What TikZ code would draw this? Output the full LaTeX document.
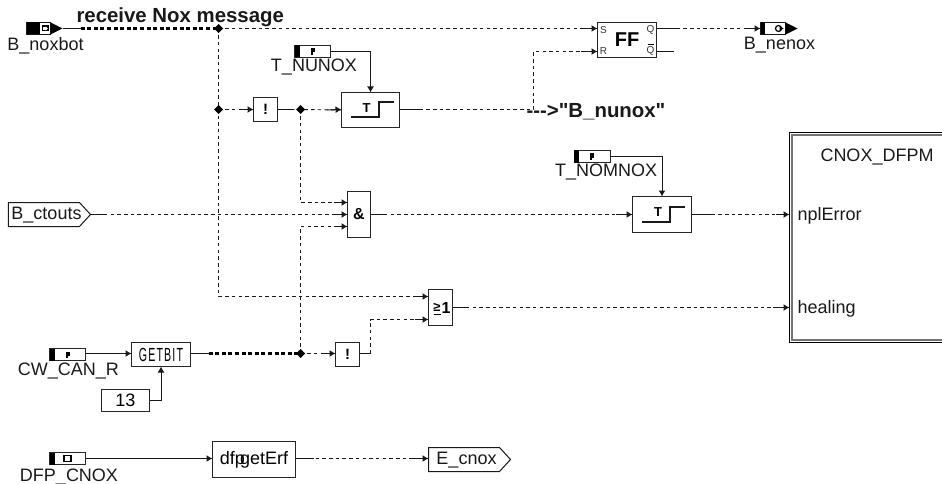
\documentclass[tikz,border=0pt]{standalone}
\usepackage{fontspec}
\setmainfont[Ligatures=TeXOff]{Liberation Sans}
\usetikzlibrary{arrows.meta,calc,shapes.geometric}
\newcommand{\szA}{\fontsize{18}{20}\selectfont}
\newcommand{\szB}{\fontsize{20.4}{22}\selectfont\bfseries}
\tikzset{
  x=1pt,y=-1pt,
  wire/.style={line width=0.9pt,black!90,dash pattern=on 3.5pt off 3.2pt},
  boldwire/.style={line width=2.2pt,black,dash pattern=on 4pt off 2.6pt},
  stub/.style={line width=1pt,black!90},
  stubin/.style={line width=1pt,black!90,-{Latex[length=6pt,width=7pt]}},
  blk/.style={draw=black!85,line width=1.1pt,fill=white,inner sep=0pt,outer sep=0pt,rectangle,font=\szA},
  lbl/.style={inner sep=0pt,outer sep=0pt,font=\szA,text=black!90},
  bold/.style={inner sep=0pt,outer sep=0pt,font=\szB,text=black!90},
  dot/.style={diamond,fill=black,inner sep=0pt,minimum size=9pt,outer sep=0pt},
  sym/.style={inner sep=0pt,outer sep=0pt,font=\bfseries\fontsize{16}{18}\selectfont},
  port/.style={inner sep=0pt,outer sep=0pt,font=\fontsize{10}{11}\selectfont,text=black!80},
  flag/.style={draw=black!85,line width=1pt,fill=white,inner sep=0pt,outer sep=0pt,minimum width=36pt,minimum height=12pt,rectangle},
  flagbar/.style={fill=black,draw=none},
  stepline/.style={line width=2pt,black!90},
  tag/.style={draw=black!90,line width=1pt,fill=white},
}
\newcommand{\flagbar}[1]{\fill[flagbar] (#1.north west) rectangle ($(#1.south west)+(5,0)$);}
\newcommand{\stepsym}[1]{%
  \draw[stepline] ($(#1.center)+(-20,7.5)$) -- ($(#1.center)+(8,7.5)$) -- ($(#1.center)+(8,-7.5)$) -- ($(#1.center)+(23,-7.5)$);
  \node[sym,font=\bfseries\fontsize{13}{14}\selectfont] at ($(#1.center)+(-4,-2)$) {T};}
\begin{document}
\begin{tikzpicture}
\useasboundingbox (-0.5,-0.5) rectangle (941.5,483.5);
% blocks
\node[blk,minimum width=24pt,minimum height=24pt] (not1) at (265,109) {};
\node[sym,font=\bfseries\fontsize{15}{17}\selectfont] at (not1.center) {!};
\node[blk,minimum width=58pt,minimum height=35pt] (t1) at (370,109.5) {};
\node[blk,minimum width=59pt,minimum height=35pt] (ff) at (626.5,39.5) {};
\node[sym,font=\bfseries\fontsize{20}{22}\selectfont] at (ff.center) {FF};
\node[port] at (603,29.5) {S};
\node[port] at (603,50.5) {R};
\node[port] at (650,29.5) {Q};
\node[port] at (650,50.5) {Q};
\draw[line width=.7pt] (647,44) -- (653,44);
\node[blk,minimum width=59pt,minimum height=36pt] (t2) at (661.5,214) {};
\node[blk,minimum width=23pt,minimum height=46pt] (and) at (358.5,214) {};
\node[sym] at (and.center) {\&};
\node[blk,minimum width=24pt,minimum height=36pt] (or) at (440,307) {};
\node[sym,font=\fontsize{13}{14}\selectfont\bfseries] at (436.5,307) {≥};
\draw[line width=.9pt] (433,313.5) -- (440,313.5);
\node[sym] at (445.5,307.5) {1};
\node[blk,minimum width=24pt,minimum height=24pt] (not2) at (347,354) {};
\node[sym,font=\bfseries\fontsize{15}{17}\selectfont] at (not2.center) {!};
\node[blk,minimum width=59pt,minimum height=24pt] (getbit) at (160.5,354) {\fontsize{19}{20}\selectfont\scalebox{0.56}[1]{G\kern2pt E\kern2pt T\kern2pt B\kern2pt I\kern2pt T}};
\node[blk,minimum width=48pt,minimum height=22pt] (k13) at (125,400) {13};
\node[blk,minimum width=83pt,minimum height=36pt] (dfp) at (253.5,459) {dfp\kern-5pt getErf};
\draw[black,line width=1pt] (943,132) -| (789,342) -- (943,342);
\draw[black!55,line width=1.6pt] (943,134.5) -| (791.5,339.5) -- (943,339.5);
\node[lbl] (cnoxname) at (876.5,157) {CNOX\_DFPM};
\node[lbl,anchor=west] (cnoxerr) at (797,215) {nplError};
\node[lbl,anchor=west] (cnoxheal) at (797,308) {healing};
% tags
\draw[tag] (8,202) -- (79,202) -- (90,214) -- (79,226) -- (8,226) -- cycle;
\node[lbl,anchor=center] (ctouts) at (46,215) {B\_ctouts};
\coordinate (ctoutsE) at (90,214);
\draw[tag] (428,447) -- (499,447) -- (510,459) -- (499,471) -- (428,471) -- cycle;
\node[lbl] (ecnox) at (466,460) {E\_cnox};
\coordinate (ecnoxW) at (428,458);
% flags
\node[flag] (nuicon) at (312,51) {}; \flagbar{nuicon}
\node[flag] (nomicon) at (591.5,156) {}; \flagbar{nomicon}
\node[flag] (cwicon) at (67,354) {}; \flagbar{cwicon}
\node[flag] (dfpicon) at (67,458) {}; \flagbar{dfpicon}
\foreach \n in {nuicon,nomicon,cwicon} {
  \fill ($(\n.center)+(-2,-3)$) rectangle ($(\n.center)+(2,1)$);
  \fill ($(\n.center)+(-2,1)$) rectangle ($(\n.center)+(0,3.5)$);
}
\draw[line width=1.2pt] ($(dfpicon.center)+(-3.5,-3)$) rectangle ($(dfpicon.center)+(3.5,3)$);
% input and output flags
\node[inner sep=0pt,outer sep=0pt,minimum width=24pt,minimum height=12pt,fill=white,draw=black!90,line width=1pt] (bin) at (38,28) {};
\fill (bin.north west) rectangle ($(bin.south west)+(13,0)$);
\fill (bin.north east) -- (62,28) -- (bin.south east) -- cycle;
\fill (41,25) rectangle (48,31);
\fill[white] (42.5,26.8) rectangle (45,29.2);
\fill[white] (45,25.8) -- (47.5,28) -- (45,30.2) -- cycle;
\coordinate (binE) at (62,28);
\node[inner sep=0pt,outer sep=0pt,minimum width=25pt,minimum height=12pt,fill=white,draw=black!90,line width=1pt] (bout) at (772.5,28) {};
\fill (bout.north west) rectangle ($(bout.south west)+(4,0)$);
\fill (785,22) -- (797,28) -- (785,34) -- cycle;
\draw[line width=1.2pt] (778,28) circle (3pt);
\fill (779,25.5) -- (783,28) -- (779,30.5) -- cycle;
\coordinate (boutW) at (760,28);
% labels
\node[lbl] (l1) at (45,45) {B\_noxbot};
\node[lbl] (l2) at (779,45) {B\_nenox};
\node[lbl] (l3) at (313.5,67) {T\_NUNOX};
\node[lbl] (l4) at (605.5,172) {T\_NOMNOX};
\node[lbl] (l5) at (68,371) {CW\_CAN\_R};
\node[lbl] (l6) at (68.5,476) {DFP\_CNOX};
\node[bold,anchor=west] (l7) at (76,17) {receive Nox message};
\node[bold,anchor=west] (l8) at (526,111) {--{}-{}>"B\_nunox"};
% junctions
\coordinate (j1) at (218,28);
\coordinate (j2) at (218,109);
\coordinate (j3) at (300,109);
\coordinate (j4) at (300,353);
\coordinate (c1) at (533,109);
\coordinate (andA) at (347,202);
\coordinate (andB) at (347,214);
\coordinate (andC) at (347,226);
\coordinate (orA) at (428,296);
\coordinate (orB) at (428,319);
\coordinate (ffS) at (597,28);
\coordinate (ffR) at (597,51);
\coordinate (cnoxA) at (789,214);
\coordinate (cnoxB) at (789,307);
\coordinate (getE) at (190,353);
\coordinate (getW) at (131,353);
\coordinate (cwE) at (85,353);
\coordinate (not2W) at (335,353);
\coordinate (not2E) at (359,353);
\coordinate (dfpE) at (295,458);
% dashed wires
\draw[stub] (binE) -- ++(18,0);
\draw[boldwire] (80,28) -- (j1);
\draw[wire] (j1) -- (ffS);
\draw[wire] (j1) -- (j2) -- (218,296) -- (orA);
\draw[wire] (j2) -- (not1.west);
\draw[stubin] ($(not1.west)+(-14,0)$) -- (not1.west);
\draw[stub] (not1.east) -- ++(14,0);
\draw[wire] (not1.east) -- (j3) -- (t1.west);
\draw[stubin] ($(t1.west)+(-14,0)$) -- (341,109);
\draw[wire] (j3) |- (andA);
\draw[wire] (ctoutsE) -- (andB);
\draw[stub] (ctoutsE) -- ++(16,0);
\draw[wire] (j4) |- (andC);
\draw[wire] (399,109) -- (c1) |- (ffR);
\draw[stub] (399,109) -- ++(20,0);
\draw[stubin] ($(ffS)+(-17,0)$) -- (ffS);
\draw[stubin] ($(ffR)+(-17,0)$) -- (ffR);
\draw[stub] (656,28) -- ++(20,0);
\draw[wire] (656,28) -- (boutW);
\draw[stubin] ($(boutW)+(-17,0)$) -- (boutW);
\draw[stub] (656,51) -- (673,51);
\draw[stubin] ($(andA)+(-14,0)$) -- (andA);
\draw[stubin] ($(andB)+(-14,0)$) -- (andB);
\draw[stubin] ($(andC)+(-14,0)$) -- (andC);
\draw[stub] (and.east) -- ++(14,0);
\draw[wire] (and.east) -- (t2.west);
\draw[stubin] ($(t2.west)+(-17,0)$) -- (t2.west);
\draw[stub] (t2.east) -- ++(20,0);
\draw[wire] (t2.east) -- (cnoxA);
\draw[stubin] ($(cnoxA)+(-14,0)$) -- (cnoxA);
\draw[stub] (or.east) -- ++(14,0);
\draw[wire] (or.east) -- (cnoxB);
\draw[stubin] ($(cnoxB)+(-17,0)$) -- (cnoxB);
\draw[stubin] ($(orA)+(-14,0)$) -- (orA);
\draw[stubin] ($(orB)+(-14,0)$) -- (orB);
\draw[stub] (getE) -- ++(18,0);
\draw[boldwire] (208,353) -- (j4);
\draw[wire] (j4) -- (not2W);
\draw[stubin] ($(not2W)+(-12,0)$) -- (not2W);
\draw[stub] (not2E) -- (370,353);
\draw[wire] (370,353) |- (orB);
\draw[stub] (dfpE) -- ++(18,0);
\draw[wire] (dfpE) -- (ecnoxW);
\draw[stubin] ($(ecnoxW)+(-17,0)$) -- (ecnoxW);
% solid wires
\draw[stubin] (nuicon.east) -| (t1.north);
\draw[stubin] (nomicon.east) -| (t2.north);
\draw[stubin] (cwE) -- (getW);
\draw[stubin] (dfpicon.east) -- (212,458);
\draw[stubin] (k13.east) -| (getbit.south);
% symbols on top
\stepsym{t1}
\stepsym{t2}
\foreach \j in {j1,j2,j3,j4} \node[dot] at (\j) {};
\end{tikzpicture}
\end{document}
